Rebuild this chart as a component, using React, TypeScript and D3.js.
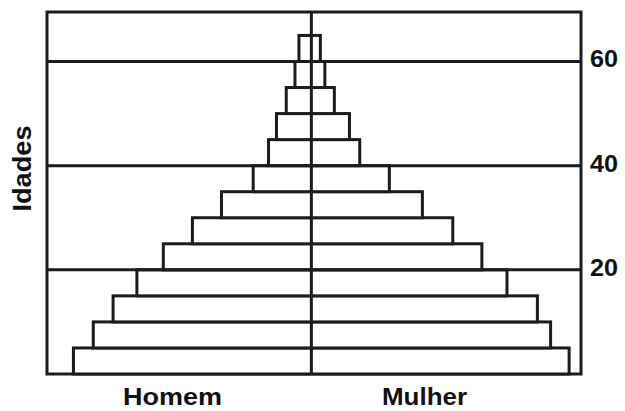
import { useRef, useEffect } from 'react';
import * as d3 from 'd3';

// Age groups (lower bound of each 5-year band), bottom to top
const ages = [0, 5, 10, 15, 20, 25, 30, 35, 40, 45, 50, 55, 60];
// Relative size of each band (%)
const homem = [9.0, 8.25, 7.5, 6.6, 5.6, 4.5, 3.4, 2.2, 1.62, 1.32, 0.95, 0.62, 0.47];
const mulher = [9.75, 9.05, 8.55, 7.4, 6.45, 5.35, 4.2, 2.95, 1.83, 1.44, 0.87, 0.51, 0.34];
const ageTicks = [20, 40, 60];
const sexLabels = ['Homem', 'Mulher'];

export default function App() {
  const ref = useRef<SVGSVGElement>(null);
  const width = 625;
  const height = 411;

  useEffect(() => {
    const svg = d3.select(ref.current);
    svg.selectAll('*').remove();

    const stroke = '#1c1c1c';
    const lw = 3;
    const font = 'Liberation Sans, Arial, sans-serif';

    // Scales
    const x = d3.scaleLinear().domain([-10, 10.2]).range([47, 581]);
    const y = d3.scaleLinear().domain([0, 69.5]).range([374, 12]);

    const data = ages.map((a, i) => ({ age: a, h: homem[i], m: mulher[i] }));

    // Frame
    svg.append('rect')
      .attr('x', x(-10)).attr('y', y(69.5))
      .attr('width', x(10.2) - x(-10))
      .attr('height', y(0) - y(69.5))
      .attr('fill', 'white')
      .attr('stroke', stroke)
      .attr('stroke-width', lw);

    // Bars (one rect per age band spanning both sexes)
    svg.selectAll('rect.bar')
      .data(data)
      .enter()
      .append('rect')
        .attr('class', 'bar')
        .attr('x', d => x(-d.h))
        .attr('y', d => y(d.age + 5))
        .attr('width', d => x(d.m) - x(-d.h))
        .attr('height', d => y(d.age) - y(d.age + 5))
        .attr('fill', 'white')
        .attr('stroke', stroke)
        .attr('stroke-width', lw);

    // Horizontal reference lines
    svg.selectAll('line.grid')
      .data(ageTicks)
      .enter()
      .append('line')
        .attr('class', 'grid')
        .attr('x1', x(-10)).attr('x2', x(10.2))
        .attr('y1', d => y(d)).attr('y2', d => y(d))
        .attr('stroke', stroke)
        .attr('stroke-width', lw);

    // Center line
    svg.append('line')
      .attr('x1', x(0)).attr('x2', x(0))
      .attr('y1', y(69.5)).attr('y2', y(0))
      .attr('stroke', stroke)
      .attr('stroke-width', lw);

    // Tick labels on the right
    svg.selectAll('text.tick')
      .data(ageTicks)
      .enter()
      .append('text')
        .attr('class', 'tick')
        .attr('x', 590)
        .attr('y', d => y(d) + 6)
        .attr('font-family', font)
        .attr('font-weight', 'bold')
        .attr('font-size', 24)
        .attr('textLength', 28)
        .attr('lengthAdjust', 'spacingAndGlyphs')
        .attr('fill', '#111')
        .text(d => d);

    // Sex labels
    svg.selectAll('text.sex')
      .data(sexLabels)
      .enter()
      .append('text')
        .attr('class', 'sex')
        .attr('x', (d, i) => (i === 0 ? 172.5 : 424.5))
        .attr('y', 405)
        .attr('text-anchor', 'middle')
        .attr('font-family', font)
        .attr('font-weight', 'bold')
        .attr('font-size', 24)
        .attr('textLength', (d, i) => (i === 0 ? 99 : 85))
        .attr('lengthAdjust', 'spacingAndGlyphs')
        .attr('fill', '#111')
        .text(d => d);

    // Y axis title
    svg.append('text')
      .attr('transform', 'translate(31, 168.5) rotate(-90)')
      .attr('text-anchor', 'middle')
      .attr('font-family', font)
      .attr('font-weight', 'bold')
      .attr('font-size', 25)
      .attr('textLength', 86)
      .attr('lengthAdjust', 'spacingAndGlyphs')
      .attr('fill', '#111')
      .text('Idades');
  }, []);

  return (
    <svg
      ref={ref}
      width={width}
      height={height}
      style={{ position: 'absolute', left: 0, top: 0, background: 'white' }}
    />
  );
}
